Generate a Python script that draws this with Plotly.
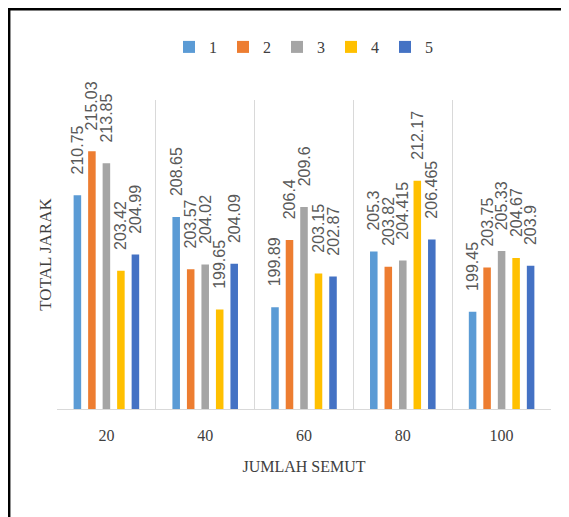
import plotly.graph_objects as go

categories = ["20", "40", "60", "80", "100"]
series_names = ["1", "2", "3", "4", "5"]
s1 = [210.75, 208.65, 199.89, 205.3, 199.45]
s2 = [215.03, 203.57, 206.4, 203.82, 203.75]
s3 = [213.85, 204.02, 209.6, 204.415, 205.33]
s4 = [203.42, 199.65, 203.15, 212.17, 204.67]
s5 = [204.99, 204.09, 202.87, 206.465, 203.9]
colors = ["#5B9BD5", "#ED7D31", "#A5A5A5", "#FFC000", "#4472C4"]

series = [s1, s2, s3, s4, s5]
SERIF = "Liberation Serif, Times New Roman, serif"
SANS = "Liberation Sans, Arial, sans-serif"

fig = go.Figure()
for name, vals, col in zip(series_names, series, colors):
    fig.add_trace(go.Bar(
        name=name, x=categories, y=vals, marker_color=col,
        marker_line_width=0,
        text=["\u00a0\u00a0\u00a0\u00a0" + str(v) for v in vals],
        textposition="outside", textangle=-90,
        textfont=dict(family=SANS, size=16, color="#595959"),
        cliponaxis=False, constraintext="none",
    ))

fig.update_layout(
    width=561, height=509,
    margin=dict(l=49, r=18, t=92, b=108, autoexpand=False),
    paper_bgcolor="white", plot_bgcolor="white",
    barmode="group", bargap=0.266, bargroupgap=0.48,
    showlegend=True,
    legend=dict(orientation="h", x=0.5, xanchor="center", y=1.1715, yanchor="middle",
                font=dict(family=SERIF, size=16, color="#404040"),
                itemwidth=30, entrywidth=9, entrywidthmode="pixels", traceorder="normal"),
    xaxis=dict(type="category", tickson="boundaries", showgrid=True, gridcolor="#D9D9D9",
               gridwidth=1, showline=True, linecolor="#D9D9D9", linewidth=1,
               ticks="", ticklabelstandoff=12, automargin=False,
               tickfont=dict(family=SERIF, size=16, color="#404040"),
               title=dict(text="JUMLAH SEMUT", font=dict(family=SERIF, size=16, color="#404040"),
                          standoff=17)),
    yaxis=dict(range=[190, 220], showgrid=False, zeroline=False, showticklabels=False,
               showline=False, ticks="", automargin=False,
               title=dict(text="TOTAL JARAK", font=dict(family=SERIF, size=17, color="#404040"),
                          standoff=0)),
    shapes=[dict(type="rect", xref="paper", yref="paper",
                 x0=-0.0968, x1=1.04, y0=-0.36, y1=1.2939,
                 line=dict(color="black", width=2.5), layer="above")],
)

fig.write_html("out.html")
